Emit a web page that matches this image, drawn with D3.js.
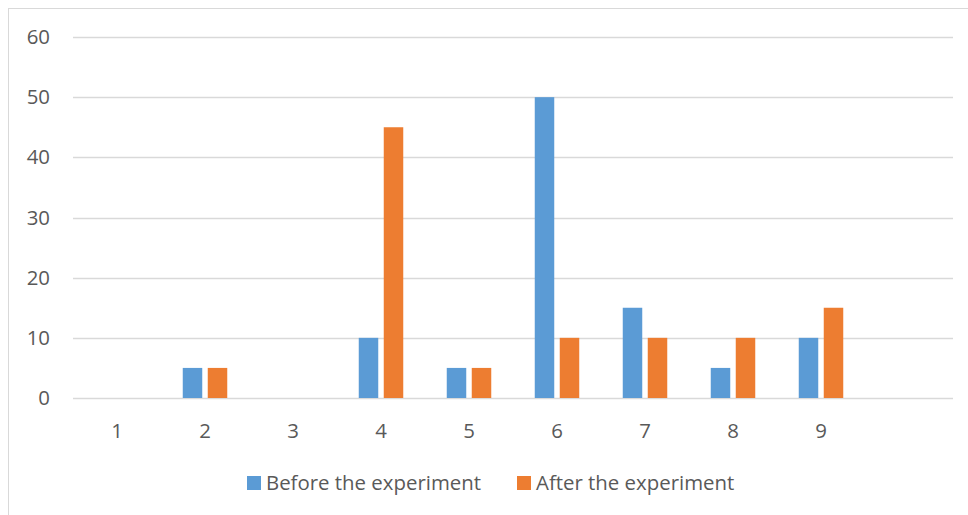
<!DOCTYPE html>
<html>
<head>
<meta charset="utf-8">
<script src="https://cdn.jsdelivr.net/npm/d3@7"></script>
<style>
  body { margin: 0; background: #fff; }
  text { font-family: "Open Sans", sans-serif; fill: #595959; }
</style>
</head>
<body>
<div id="chart"></div>
<script>
const categories = ["1", "2", "3", "4", "5", "6", "7", "8", "9", ""]
const seriesNames = ["Before the experiment", "After the experiment"]
const before = [0, 5, 0, 10, 5, 50, 15, 5, 10, null]
const after = [0, 5, 0, 45, 5, 10, 10, 10, 15, null]
const yTicks = [0, 10, 20, 30, 40, 50, 60]
const colors = ["#5b9bd5", "#ed7d31"]

const width = 968
const height = 515
const margin = { top: 37, right: 15, bottom: 117, left: 73 }
const fontSize = 20.4

const svg = d3.select('#chart')
  .append('svg')
  .attr('width', width)
  .attr('height', height)

// chart border (only left/top visible in the frame)
svg.append('rect')
  .attr('x', 8.5)
  .attr('y', 8.5)
  .attr('width', 1000)
  .attr('height', 700)
  .attr('fill', 'none')
  .attr('stroke', '#d9d9d9')

// scales
const x0 = d3.scaleBand()
  .domain(d3.range(categories.length))
  .range([margin.left, 953])

const x1 = d3.scaleBand()
  .domain([0, 1])
  .range([0, x0.bandwidth()])
  .paddingInner(0.22)
  .paddingOuter(0.87)

const y = d3.scaleLinear()
  .domain([0, 60])
  .range([398, 37])

// gridlines
svg.append('g')
  .selectAll('line')
  .data(yTicks)
  .join('line')
  .attr('x1', margin.left)
  .attr('x2', 953)
  .attr('y1', d => Math.round(y(d)) + 0.5)
  .attr('y2', d => Math.round(y(d)) + 0.5)
  .attr('stroke', '#d9d9d9')
  .attr('stroke-width', 1.3)

// y labels
svg.append('g')
  .selectAll('text')
  .data(yTicks)
  .join('text')
  .attr('x', 50)
  .attr('y', d => y(d))
  .attr('dy', '0.35em')
  .attr('text-anchor', 'end')
  .attr('font-size', fontSize)
  .text(d => d)

// x labels
svg.append('g')
  .selectAll('text')
  .data(categories)
  .join('text')
  .attr('x', (d, i) => x0(i) + x0.bandwidth() / 2)
  .attr('y', 431)
  .attr('dy', '0.35em')
  .attr('text-anchor', 'middle')
  .attr('font-size', fontSize)
  .text(d => d)

// bars
const series = [before, after]
series.forEach((values, s) => {
  svg.append('g')
    .selectAll('rect')
    .data(values.map((v, i) => ({ i, v })).filter(d => d.v))
    .join('rect')
    .attr('x', d => x0(d.i) + x1(s))
    .attr('width', x1.bandwidth())
    .attr('y', d => y(d.v))
    .attr('height', d => y(0) - y(d.v))
    .attr('fill', colors[s])
})

// legend
const legendX = [247, 517]
const legend = svg.append('g')
  .selectAll('g')
  .data(seriesNames)
  .join('g')
  .attr('transform', (d, i) => `translate(${legendX[i]},476)`)

legend.append('rect')
  .attr('width', 14)
  .attr('height', 14)
  .attr('fill', (d, i) => colors[i])

legend.append('text')
  .attr('x', 19)
  .attr('y', 7)
  .attr('dy', '0.35em')
  .attr('font-size', fontSize)
  .text(d => d)
</script>
</body>
</html>
